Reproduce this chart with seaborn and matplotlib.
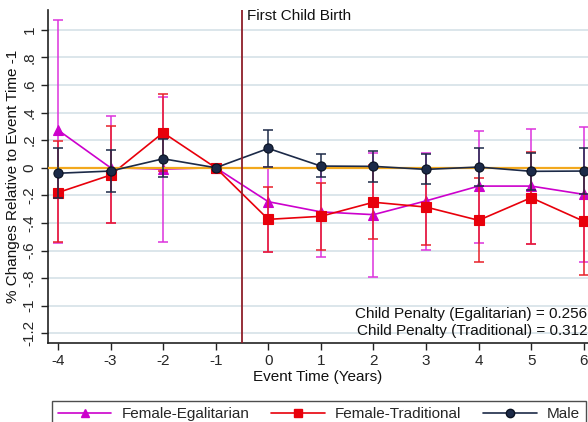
import numpy as np
import pandas as pd
import matplotlib
matplotlib.use("Agg")
import matplotlib.pyplot as plt
import seaborn as sns
from matplotlib.ticker import FixedLocator

sns.set_theme(style="white")
plt.rcParams["font.family"] = ["Liberation Sans", "DejaVu Sans"]

# Event study estimates (relative to event time -1) with 95% CI bounds
event_time = [-4, -3, -2, -1, 0, 1, 2, 3, 4, 5, 6]

egal_coef = [0.273, 0.0, -0.01, 0.0, -0.246, -0.32, -0.34, -0.24, -0.133, -0.133, -0.193]
egal_hi = [1.07, 0.377, 0.515, 0.0, 0.005, 0.01, 0.109, 0.11, 0.268, 0.28, 0.293]
egal_lo = [-0.548, -0.40, -0.54, 0.0, -0.61, -0.65, -0.79, -0.594, -0.543, -0.553, -0.683]

trad_coef = [-0.18, -0.053, 0.254, 0.0, -0.374, -0.352, -0.25, -0.285, -0.381, -0.217, -0.388]
trad_hi = [0.195, 0.30, 0.534, 0.0, -0.137, -0.109, 0.02, -0.01, -0.075, 0.115, 0.0]
trad_lo = [-0.54, -0.40, -0.026, 0.0, -0.613, -0.594, -0.52, -0.56, -0.683, -0.55, -0.775]

male_coef = [-0.04, -0.024, 0.065, 0.0, 0.14, 0.012, 0.01, -0.012, 0.005, -0.026, -0.024]
male_hi = [0.14, 0.128, 0.206, 0.0, 0.273, 0.10, 0.123, 0.10, 0.145, 0.11, 0.14]
male_lo = [-0.22, -0.174, -0.07, 0.0, 0.007, -0.07, -0.104, -0.118, -0.135, -0.161, -0.19]

series_names = ["Female-Egalitarian", "Female-Traditional", "Male"]
penalty_egal = 0.256
penalty_trad = 0.312

y_ticks = [1, 0.8, 0.6, 0.4, 0.2, 0, -0.2, -0.4, -0.6, -0.8, -1, -1.2]
y_tick_labels = ["1", ".8", ".6", ".4", ".2", "0", "-.2", "-.4", "-.6", "-.8", "-1", "-1.2"]

FS = 11

colors = {"Female-Egalitarian": "#CC00CC",
          "Female-Traditional": "#E8000B",
          "Male": "#1C2A48"}
bar_colors = {"Female-Egalitarian": "#DD33DD",
              "Female-Traditional": "#E8202A",
              "Male": "#1C2A48"}
markers = {"Female-Egalitarian": "^", "Female-Traditional": "s", "Male": "o"}
msizes = {"Female-Egalitarian": 7.2, "Female-Traditional": 6.8, "Male": 6.6}

frames = []
for name, c, lo, hi in [(series_names[0], egal_coef, egal_lo, egal_hi),
                        (series_names[1], trad_coef, trad_lo, trad_hi),
                        (series_names[2], male_coef, male_lo, male_hi)]:
    frames.append(pd.DataFrame({"t": event_time, "coef": c, "lo": lo, "hi": hi, "group": name}))
df = pd.concat(frames, ignore_index=True)

fig = plt.figure(figsize=(5.88, 4.22), dpi=100)
ax = fig.add_axes([0.0816, 0.1872, 0.9184, 0.7891])

ax.set_xlim(-4.19, 6.08)
ax.set_ylim(-1.27, 1.143)

# light horizontal grid
for yv in y_ticks:
    ax.axhline(yv, color="#D6E2E8", lw=1.2, zorder=0)

# confidence interval caps
zorders = {"Female-Egalitarian": 2, "Female-Traditional": 3, "Male": 5}
for name in series_names:
    sub = df[df["group"] == name]
    sub = sub[sub["t"] != -1]
    ax.errorbar(sub["t"], sub["coef"],
                yerr=[sub["coef"] - sub["lo"], sub["hi"] - sub["coef"]],
                fmt="none", ecolor=bar_colors[name], elinewidth=1.1,
                capsize=3.6, capthick=1.1, zorder=zorders[name])

# zero reference line
ax.axhline(0, color="#F2A81D", lw=1.6, zorder=4)

for name in series_names:
    sub = df[df["group"] == name]
    sns.lineplot(data=sub, x="t", y="coef", ax=ax, color=colors[name],
                 marker=markers[name], markersize=msizes[name],
                 markeredgecolor="#0A1222" if name == "Male" else colors[name],
                 markeredgewidth=0.8, lw=1.2, label=name, zorder=zorders[name] + 0.5,
                 clip_on=False, legend=False)

# event marker
ax.axvline(-0.5, color="#8E1F2A", lw=1.3, zorder=6)
ax.text(-0.41, 0.982, "First Child Birth", transform=ax.get_xaxis_transform(),
        ha="left", va="center", fontsize=FS, color="#111111")

ax.text(0.999, 0.087, f"Child Penalty (Egalitarian) = {penalty_egal:.3f}",
        transform=ax.transAxes, ha="right", va="center", fontsize=FS, color="#111111")
ax.text(0.999, 0.036, f"Child Penalty (Traditional) = {penalty_trad:.3f}",
        transform=ax.transAxes, ha="right", va="center", fontsize=FS, color="#111111")

ax.yaxis.set_major_locator(FixedLocator(y_ticks))
ax.set_yticklabels(y_tick_labels, rotation=90, va="center", fontsize=FS)
ax.set_xticks(event_time)
ax.set_xticklabels([str(t) for t in event_time], fontsize=FS)
ax.tick_params(axis="both", direction="out", length=5, width=1, color="#222222",
               bottom=True, left=True, pad=3)

ax.set_xlabel("Event Time (Years)", fontsize=FS, labelpad=1, color="#111111")
ax.set_ylabel("% Changes Relative to Event Time -1", fontsize=FS, labelpad=2, color="#111111")

for side in ["top", "right"]:
    ax.spines[side].set_visible(False)
for side in ["left", "bottom"]:
    ax.spines[side].set_color("#222222")
    ax.spines[side].set_linewidth(1.2)

# legend below the plot
handles = []
for name in series_names:
    h, = ax.plot([], [], color=colors[name], marker=markers[name], markersize=6,
                 markeredgecolor="#0A1222" if name == "Male" else colors[name], lw=1.2)
    handles.append(h)
leg = fig.legend(handles, series_names, loc="upper left", bbox_to_anchor=(0.088, 0.05),
                 ncol=3, frameon=True, fontsize=FS, handlelength=3.5,
                 handletextpad=0.65, columnspacing=1.45, borderpad=0.4,
                 fancybox=False, borderaxespad=0)
leg.get_frame().set_edgecolor("#222222")
leg.get_frame().set_linewidth(1.0)

fig.savefig("out.png", dpi=100)
